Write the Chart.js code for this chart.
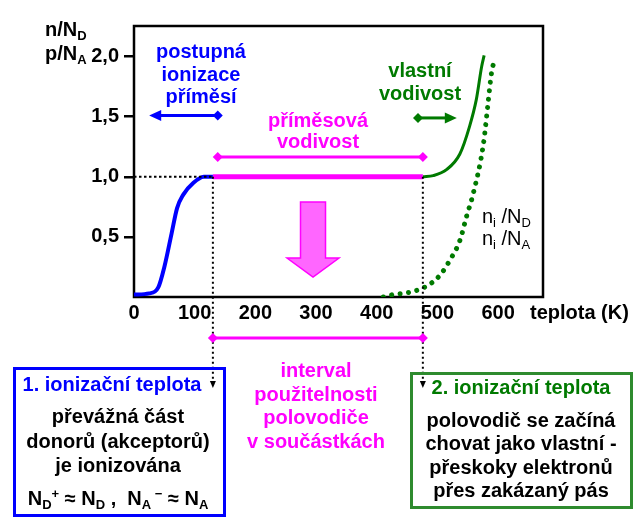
<!DOCTYPE html>
<html lang="cs">
<head>
<meta charset="utf-8">
<title>Ionizace příměsí v polovodiči</title>
<script src="https://cdn.jsdelivr.net/npm/chart.js@4.4.0/dist/chart.umd.min.js"></script>
<style>
  html, body { margin: 0; padding: 0; background: #fff; }
  #wrap { position: relative; width: 640px; height: 524px; }
</style>
</head>
<body>
<div id="wrap"><canvas id="graf"></canvas></div>
<script>
// osa x: teplota (K), osa y: n/N_D
const xTicks = [0, 100, 200, 300, 400, 500, 600];
const yTicks = [0.5, 1.0, 1.5, 2.0];

// postupna ionizace primesi (modra)
const teplotaPrimes = [0, 25, 40, 50, 62, 71, 81, 98, 115, 130];
const hodnotaPrimes = [0.02, 0.03, 0.08, 0.25, 0.53, 0.74, 0.85, 0.95, 1.0, 1.0];

// primesova vodivost (plato)
const teplotaPlato = [130, 476];
const hodnotaPlato = [1.0, 1.0];

// teckovana vodici cara k hodnote 1,0
const teplotaVodici = [0, 130];
const hodnotaVodici = [1.0, 1.0];

// vlastni vodivost - celkova koncentrace
const teplotaVlastni = [476, 493, 515, 537, 553, 564, 573, 577];
const hodnotaVlastni = [1.0, 1.01, 1.06, 1.19, 1.42, 1.64, 1.92, 2.01];

// n_i / N_D (teckovana)
const teplotaNi = [411, 427, 455, 482, 504, 521, 537, 548, 559, 576, 584, 589, 595];
const hodnotaNi = [0, 0.02, 0.04, 0.09, 0.18, 0.31, 0.47, 0.67, 0.86, 1.28, 1.64, 1.86, 1.99];

const FONT = '"Liberation Sans", Arial, sans-serif';
const MODRA = "#0000ff";
const RUZOVA = "#ff00ff";
const ZELENA = "#007a00";

function body(xs, ys) {
  return xs.map((x, i) => ({ x: x, y: ys[i] }));
}

// text slozeny z kousku (indexy, exponenty)
function slozenyText(ctx, kusy, x, y, align, barva) {
  let sirka = 0;
  kusy.forEach((k) => {
    ctx.font = `${k[3] || "bold"} ${k[1]}px ${FONT}`;
    sirka += ctx.measureText(k[0]).width;
  });
  let cx = align === "center" ? x - sirka / 2 : x;
  ctx.fillStyle = barva;
  ctx.textAlign = "left";
  ctx.textBaseline = "alphabetic";
  kusy.forEach((k) => {
    ctx.font = `${k[3] || "bold"} ${k[1]}px ${FONT}`;
    ctx.fillText(k[0], cx, y + k[2]);
    cx += ctx.measureText(k[0]).width;
  });
}

function radky(ctx, texty, x, baseline, krok, barva) {
  ctx.font = `bold 20px ${FONT}`;
  ctx.fillStyle = barva;
  ctx.textAlign = "center";
  ctx.textBaseline = "alphabetic";
  texty.forEach((t, i) => ctx.fillText(t, x, baseline + i * krok));
}

function konec(ctx, x, y, typ, smer) {
  ctx.beginPath();
  if (typ === "diamant") {
    ctx.moveTo(x - 5, y);
    ctx.lineTo(x, y - 5);
    ctx.lineTo(x + 5, y);
    ctx.lineTo(x, y + 5);
  } else {
    ctx.moveTo(x, y);
    ctx.lineTo(x - smer * 12, y - 5.5);
    ctx.lineTo(x - smer * 12, y + 5.5);
  }
  ctx.closePath();
  ctx.fill();
}

function sipka(ctx, x1, x2, y, levy, pravy, barva) {
  ctx.save();
  ctx.strokeStyle = barva;
  ctx.fillStyle = barva;
  ctx.lineWidth = 3;
  ctx.beginPath();
  ctx.moveTo(x1 + (levy === "sipka" ? 8 : 0), y);
  ctx.lineTo(x2 - (pravy === "sipka" ? 8 : 0), y);
  ctx.stroke();
  konec(ctx, x1, y, levy, -1);
  konec(ctx, x2, y, pravy, 1);
  ctx.restore();
}

function svislaTeckovana(ctx, x, y1, y2) {
  ctx.save();
  ctx.strokeStyle = "#000";
  ctx.fillStyle = "#000";
  ctx.lineWidth = 2;
  ctx.setLineDash([2, 3]);
  ctx.beginPath();
  ctx.moveTo(x, y1);
  ctx.lineTo(x, y2 - 6);
  ctx.stroke();
  ctx.setLineDash([]);
  ctx.beginPath();
  ctx.moveTo(x - 3, y2 - 7);
  ctx.lineTo(x + 3, y2 - 7);
  ctx.lineTo(x, y2);
  ctx.closePath();
  ctx.fill();
  ctx.restore();
}

const ramecek = {
  id: "ramecek",
  beforeDatasetsDraw(chart) {
    const a = chart.chartArea;
    const ctx = chart.ctx;
    ctx.save();
    ctx.strokeStyle = "#000";
    ctx.lineWidth = 2.5;
    ctx.strokeRect(a.left, a.top, a.right - a.left, a.bottom - a.top);
    ctx.restore();
  },
};

const popisky = {
  id: "popisky",
  afterDraw(chart) {
    const ctx = chart.ctx;
    const sx = chart.scales.x;
    const sy = chart.scales.y;
    const px = (v) => sx.getPixelForValue(v);
    const py = (v) => sy.getPixelForValue(v);
    ctx.save();

    // popis osy y
    slozenyText(ctx, [["n/N", 20, 0], ["D", 13, 4]], 45, 36, "left", "#000");
    slozenyText(ctx, [["p/N", 20, 0], ["A", 13, 4]], 45, 60, "left", "#000");

    // popis osy x
    ctx.font = `bold 20px ${FONT}`;
    ctx.fillStyle = "#000";
    ctx.textAlign = "left";
    ctx.fillText("teplota (K)", 530, 319);

    // oblasti
    radky(ctx, ["postupná", "ionizace", "příměsí"], 201, 58, 22.5, MODRA);
    sipka(ctx, px(25), px(138), py(1.51), "sipka", "diamant", MODRA);

    radky(ctx, ["příměsová", "vodivost"], 318, 127, 21, RUZOVA);
    sipka(ctx, px(138), px(476), py(1.165), "diamant", "diamant", RUZOVA);

    radky(ctx, ["vlastní", "vodivost"], 420, 77, 23, ZELENA);
    sipka(ctx, px(468), px(532), py(1.49), "diamant", "sipka", ZELENA);

    slozenyText(ctx, [["n", 20, 0, "normal"], ["i", 13, 4, "normal"], [" /N", 20, 0, "normal"], ["D", 13, 4, "normal"]], 482, 223, "left", "#000");
    slozenyText(ctx, [["n", 20, 0, "normal"], ["i", 13, 4, "normal"], [" /N", 20, 0, "normal"], ["A", 13, 4, "normal"]], 482, 245, "left", "#000");

    // velka sipka dolu
    const s = px(295);
    ctx.beginPath();
    ctx.moveTo(s - 12.5, 202);
    ctx.lineTo(s + 12.5, 202);
    ctx.lineTo(s + 12.5, 258);
    ctx.lineTo(s + 26, 258);
    ctx.lineTo(s, 277);
    ctx.lineTo(s - 26, 258);
    ctx.lineTo(s - 12.5, 258);
    ctx.closePath();
    ctx.fillStyle = "#ff66ff";
    ctx.fill();
    ctx.strokeStyle = RUZOVA;
    ctx.lineWidth = 1.5;
    ctx.stroke();

    // ionizacni teploty
    svislaTeckovana(ctx, px(130), py(1.0), 388);
    svislaTeckovana(ctx, px(476), py(1.0), 388);
    sipka(ctx, px(130), px(476), 338, "diamant", "diamant", RUZOVA);

    radky(ctx, ["interval", "použitelnosti", "polovodiče", "v součástkách"], 316, 377, 23.7, RUZOVA);

    // levy box
    ctx.strokeStyle = MODRA;
    ctx.lineWidth = 3;
    ctx.strokeRect(14.5, 368.5, 210, 147);
    radky(ctx, ["1. ionizační teplota"], 112, 391, 0, MODRA);
    radky(ctx, ["převážná část", "donorů (akceptorů)", "je ionizována"], 118, 423, 24.5, "#000");
    slozenyText(ctx, [
      ["N", 20, 0], ["D", 13, 4], ["+", 13, -7], [" ≈ N", 20, 0], ["D", 13, 4],
      [" ,  N", 20, 0], ["A", 13, 4], [" −", 13, -7], [" ≈ N", 20, 0], ["A", 13, 4],
    ], 118, 505, "center", "#000");

    // pravy box
    ctx.strokeStyle = "#2e8b2e";
    ctx.lineWidth = 3;
    ctx.strokeRect(411.5, 373.5, 220, 134);
    radky(ctx, ["2. ionizační teplota"], 521, 394, 0, ZELENA);
    radky(ctx, ["polovodič se začíná", "chovat jako vlastní -", "přeskoky elektronů", "přes zakázaný pás"], 521, 427, 23.3, "#000");

    ctx.restore();
  },
};

const graf = new Chart(document.getElementById("graf"), {
  type: "line",
  data: {
    datasets: [
      {
        data: body(teplotaVodici, hodnotaVodici),
        borderColor: "#000",
        borderWidth: 2,
        borderDash: [2.5, 2.5],
      },
      {
        data: body(teplotaPrimes, hodnotaPrimes),
        borderColor: MODRA,
        borderWidth: 4,
        cubicInterpolationMode: "monotone",
      },
      {
        data: body(teplotaPlato, hodnotaPlato),
        borderColor: RUZOVA,
        borderWidth: 5,
      },
      {
        data: body(teplotaVlastni, hodnotaVlastni),
        borderColor: ZELENA,
        borderWidth: 3,
        cubicInterpolationMode: "monotone",
      },
      {
        data: body(teplotaNi, hodnotaNi),
        borderColor: ZELENA,
        borderWidth: 5,
        borderDash: [0.01, 8.5],
        borderCapStyle: "round",
        cubicInterpolationMode: "monotone",
      },
    ],
  },
  options: {
    responsive: true,
    maintainAspectRatio: false,
    animation: false,
    layout: { padding: { left: 0, top: 26, right: 97, bottom: 187 } },
    elements: { point: { radius: 0 } },
    plugins: {
      legend: { display: false },
      tooltip: { enabled: false },
    },
    scales: {
      x: {
        type: "linear",
        min: 0,
        max: 674,
        afterBuildTicks: (scale) => {
          scale.ticks = xTicks.map((v) => ({ value: v }));
        },
        afterFit: (scale) => {
          scale.height = 40;
        },
        grid: { display: false, drawTicks: false },
        border: { display: false },
        ticks: {
          padding: 4,
          autoSkip: false,
          maxRotation: 0,
          color: "#000",
          font: { family: FONT, size: 20, weight: "bold" },
        },
      },
      y: {
        type: "linear",
        min: 0,
        max: 2.255,
        afterBuildTicks: (scale) => {
          scale.ticks = yTicks.map((v) => ({ value: v }));
        },
        afterFit: (scale) => {
          scale.width = 134;
        },
        grid: {
          drawOnChartArea: false,
          drawTicks: true,
          tickLength: 10,
          color: "#000",
          lineWidth: 2.5,
        },
        border: { display: false },
        ticks: {
          padding: 5,
          color: "#000",
          font: { family: FONT, size: 20, weight: "bold" },
          callback: (v) => v.toFixed(1).replace(".", ","),
        },
      },
    },
  },
  plugins: [ramecek, popisky],
});
</script>
</body>
</html>
